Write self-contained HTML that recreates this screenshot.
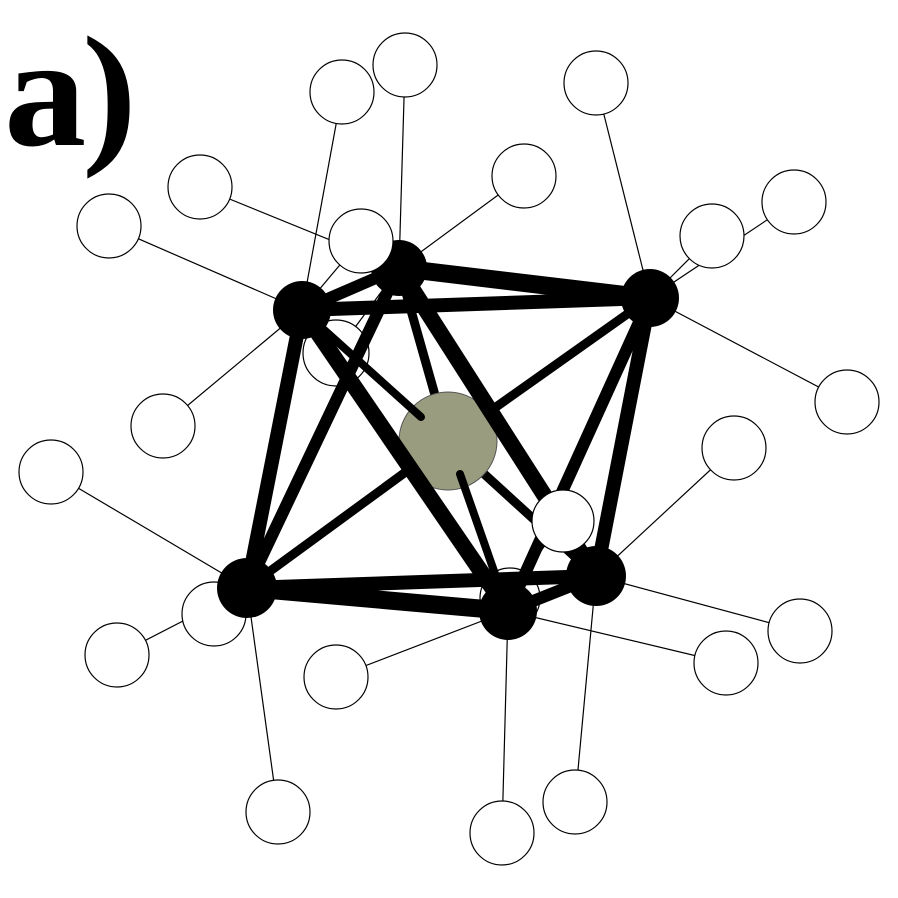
<!DOCTYPE html>
<html><head><meta charset="utf-8"><style>html,body{margin:0;padding:0;background:#fff}svg{display:block}</style></head>
<body>
<svg width="898" height="898" viewBox="0 0 898 898" xmlns="http://www.w3.org/2000/svg">
<text x="2" y="145" font-family="Liberation Serif, serif" font-weight="bold" font-size="158" letter-spacing="-4" fill="#000" transform="translate(2,0) scale(1.04,1)">a)</text>
<g stroke="#000" stroke-width="1.2" fill="none">
<line x1="342" y1="92" x2="302" y2="310"/>
<line x1="405" y1="65" x2="399" y2="268"/>
<line x1="200" y1="187" x2="399" y2="268"/>
<line x1="109" y1="226" x2="302" y2="310"/>
<line x1="360" y1="241" x2="302" y2="310"/>
<line x1="336" y1="353" x2="399" y2="268"/>
<line x1="163" y1="426" x2="302" y2="310"/>
<line x1="524" y1="176" x2="399" y2="268"/>
<line x1="596" y1="83" x2="650" y2="298"/>
<line x1="712" y1="236" x2="650" y2="298"/>
<line x1="794" y1="202" x2="650" y2="298"/>
<line x1="847" y1="402" x2="650" y2="298"/>
<line x1="51" y1="472" x2="247" y2="588"/>
<line x1="214" y1="614" x2="247" y2="588"/>
<line x1="117" y1="655" x2="247" y2="588"/>
<line x1="278" y1="812" x2="247" y2="588"/>
<line x1="336" y1="677" x2="508" y2="611"/>
<line x1="734" y1="448" x2="596" y2="576"/>
<line x1="800" y1="631" x2="596" y2="576"/>
<line x1="726" y1="663" x2="508" y2="611"/>
<line x1="575" y1="802" x2="596" y2="576"/>
<line x1="502" y1="833" x2="508" y2="611"/>
<line x1="510" y1="595" x2="562" y2="521"/>
</g>
<g stroke="#000" stroke-width="1.2" fill="#fff">
<circle cx="342" cy="92" r="32"/><circle cx="405" cy="65" r="32"/>
<circle cx="200" cy="187" r="32"/><circle cx="109" cy="226" r="32"/>
<circle cx="336" cy="353" r="33"/><circle cx="163" cy="426" r="32"/>
<circle cx="524" cy="176" r="32"/><circle cx="596" cy="83" r="32"/>
<circle cx="712" cy="236" r="32"/><circle cx="794" cy="202" r="32"/>
<circle cx="847" cy="402" r="32"/><circle cx="51" cy="472" r="32"/>
<circle cx="214" cy="614" r="32"/><circle cx="117" cy="655" r="32"/>
<circle cx="278" cy="812" r="32"/><circle cx="336" cy="677" r="32"/>
<circle cx="734" cy="448" r="32"/><circle cx="800" cy="631" r="32"/>
<circle cx="726" cy="663" r="32"/><circle cx="575" cy="802" r="32"/>
<circle cx="502" cy="833" r="32"/><circle cx="510" cy="598" r="30"/>
</g>
<g stroke="#000" stroke-linecap="round">
<line x1="448" y1="441" x2="247" y2="588" stroke-width="9"/>
<line x1="448" y1="441" x2="399" y2="268" stroke-width="9"/>
<line x1="448" y1="441" x2="596" y2="576" stroke-width="9"/>
<line x1="448" y1="441" x2="650" y2="298" stroke-width="9"/>
</g>
<circle cx="448" cy="441" r="49" fill="#9a9c80" stroke="#555" stroke-width="1"/>
<g stroke="#000" stroke-linecap="round">
<line x1="302" y1="310" x2="421" y2="417" stroke-width="8"/>
<line x1="650" y1="298" x2="488" y2="413" stroke-width="8"/>
<line x1="460" y1="474" x2="508" y2="611" stroke-width="8"/>
</g>
<g stroke="#000" stroke-linecap="round">
<line x1="302" y1="310" x2="399" y2="268" stroke-width="12"/>
<line x1="302" y1="310" x2="650" y2="298" stroke-width="14"/>
<line x1="399" y1="268" x2="650" y2="298" stroke-width="18"/>
<line x1="302" y1="310" x2="247" y2="588" stroke-width="14"/>
<line x1="302" y1="310" x2="508" y2="611" stroke-width="16"/>
<line x1="399" y1="268" x2="247" y2="588" stroke-width="12"/>
<line x1="399" y1="268" x2="596" y2="576" stroke-width="16"/>
<line x1="650" y1="298" x2="596" y2="576" stroke-width="14"/>
<line x1="650" y1="298" x2="508" y2="611" stroke-width="12"/>
<line x1="247" y1="588" x2="596" y2="576" stroke-width="14"/>
<line x1="247" y1="588" x2="508" y2="611" stroke-width="18"/>
<line x1="508" y1="611" x2="596" y2="576" stroke-width="12"/>
</g>
<g fill="#000">
<circle cx="302" cy="310" r="29"/><circle cx="399" cy="268" r="28"/>
<circle cx="650" cy="298" r="29"/><circle cx="247" cy="588" r="30"/>
<circle cx="508" cy="611" r="29"/><circle cx="596" cy="576" r="30"/>
</g>
<g stroke="#000" stroke-width="1.2" fill="#fff">
<circle cx="361" cy="241" r="32"/>
<circle cx="563" cy="521" r="31"/>
</g>
</svg>
</body></html>
